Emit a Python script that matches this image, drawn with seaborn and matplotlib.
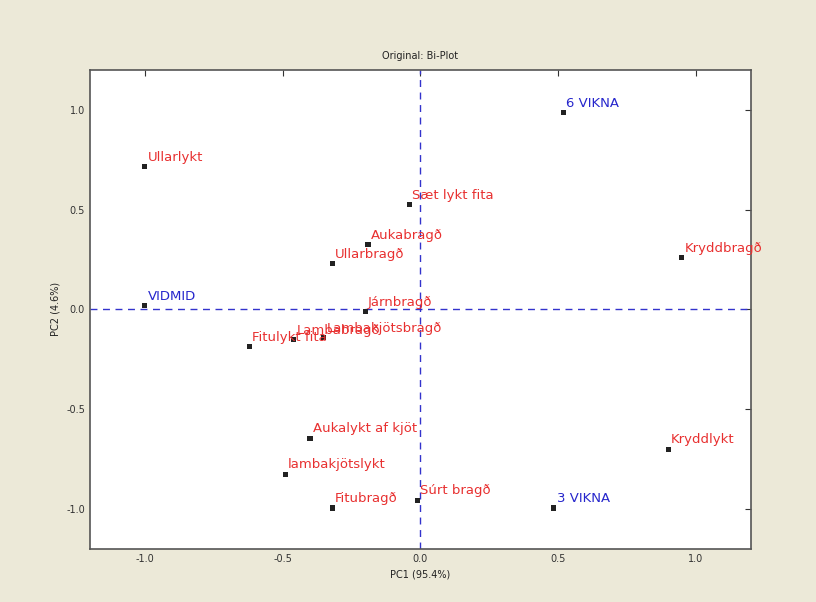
import matplotlib
matplotlib.use("Agg")
import matplotlib.pyplot as plt
import seaborn as sns
import pandas as pd

# attribute loadings (red) and sample scores (blue)
attr_names = ["Ullarlykt", "Sæt lykt fita", "Aukabragð", "Ullarbragð", "Kryddbragð",
              "Járnbragð", "Fitulykt fita", "Lambabragð", "Lambakjötsbragð",
              "Aukalykt af kjöt", "lambakjötslykt", "Fitubragð", "Súrt bragð", "Kryddlykt"]
attr_pc1 = [-1.00, -0.04, -0.19, -0.32, 0.95, -0.20, -0.62, -0.46, -0.35,
            -0.40, -0.49, -0.32, -0.01, 0.90]
attr_pc2 = [0.715, 0.525, 0.325, 0.23, 0.26, -0.01, -0.185, -0.15, -0.14,
            -0.645, -0.825, -0.995, -0.955, -0.70]

sample_names = ["6 VIKNA", "VIDMID", "3 VIKNA"]
sample_pc1 = [0.52, -1.00, 0.485]
sample_pc2 = [0.985, 0.02, -0.995]

attrs = pd.DataFrame({"name": attr_names, "pc1": attr_pc1, "pc2": attr_pc2, "kind": "attr"})
samples = pd.DataFrame({"name": sample_names, "pc1": sample_pc1, "pc2": sample_pc2, "kind": "sample"})
df = pd.concat([attrs, samples], ignore_index=True)

sns.set_style("white")
plt.rcParams.update({
    "font.family": ["DejaVu Sans"],
    "xtick.direction": "in",
    "ytick.direction": "in",
    "axes.unicode_minus": False,
})

fig = plt.figure(figsize=(8.16, 6.02), dpi=100, facecolor="#ece9d8")
ax = fig.add_axes([0.110, 0.088, 0.810, 0.796])
ax.set_facecolor("white")

ax.axhline(0, color="#3333cc", linestyle="--", linewidth=1, dashes=(5, 4), zorder=1)
ax.axvline(0, color="#3333cc", linestyle="--", linewidth=1, dashes=(5, 4), zorder=1)

sns.scatterplot(data=df, x="pc1", y="pc2", marker="s", color="#222222", s=14,
                edgecolor="none", ax=ax, zorder=3, legend=False)

label_color = {"attr": "#e83030", "sample": "#2626cc"}
for _, row in df.iterrows():
    ax.annotate(row["name"], (row["pc1"], row["pc2"]), xytext=(2, 2),
                textcoords="offset points", color=label_color[row["kind"]],
                fontsize=9.5, ha="left", va="bottom", zorder=4)

ax.set_xlim(-1.2, 1.2)
ax.set_ylim(-1.2, 1.2)
ax.set_xticks([-1.0, -0.5, 0.0, 0.5, 1.0])
ax.set_yticks([-1.0, -0.5, 0.0, 0.5, 1.0])
ax.tick_params(labelsize=7, colors="#333333", top=True, right=True, length=4, width=0.8)
for sp in ax.spines.values():
    sp.set_visible(True)
    sp.set_color("#555555")
    sp.set_linewidth(1.2)

ax.set_xlabel("PC1 (95.4%)", fontsize=7, color="#222222")
ax.set_ylabel("PC2 (4.6%)", fontsize=7, color="#222222")
ax.set_title("Original: Bi-Plot", fontsize=7, color="#222222", pad=8)

fig.savefig("out.png", dpi=100, facecolor=fig.get_facecolor())
